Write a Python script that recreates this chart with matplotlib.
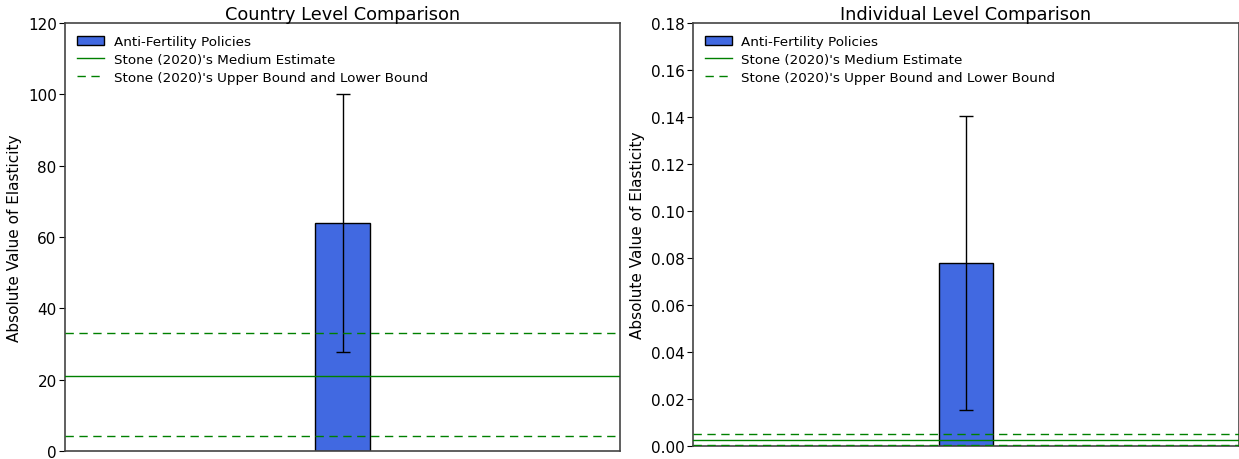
import matplotlib
matplotlib.use("Agg")
import matplotlib.pyplot as plt

# Country level (elasticity, absolute value)
country_est = 63.8
country_err_lo = 27.7
country_err_hi = 100.0
country_stone = [4.2, 21.0, 33.2]  # lower, medium, upper

# Individual level
indiv_est = 0.078
indiv_err_lo = 0.0153
indiv_err_hi = 0.1404
indiv_stone = [0.0004, 0.0027, 0.0050]

bar_label = "Anti-Fertility Policies"
med_label = "Stone (2020)'s Medium Estimate"
bnd_label = "Stone (2020)'s Upper Bound and Lower Bound"

fig = plt.figure(figsize=(12.39, 4.6), dpi=100)
ax1 = fig.add_axes([0.0525, 0.0174, 0.448, 0.9304])
ax2 = fig.add_axes([0.5593, 0.0283, 0.4407, 0.9195])


def panel(ax, est, lo, hi, stone, ymax, step, title, fmt):
    b = ax.bar([0.5], [est], width=0.1, color="royalblue", edgecolor="black",
               linewidth=1, label=bar_label, zorder=2)
    ax.errorbar([0.5], [est], yerr=[[est - lo], [hi - est]], fmt="none",
                ecolor="black", elinewidth=1, capsize=5, capthick=1, zorder=3)
    m, = ax.plot([0, 1], [stone[1]] * 2, color="green", lw=1, label=med_label, zorder=4)
    u, = ax.plot([0, 1], [stone[2]] * 2, color="green", lw=1, ls=(0, (6, 4)),
                 label=bnd_label, zorder=4)
    ax.plot([0, 1], [stone[0]] * 2, color="green", lw=1, ls=(0, (6, 4)), zorder=4)
    ax.set_xlim(0, 1)
    ax.set_ylim(0, ymax)
    ax.set_xticks([])
    ticks = [i * step for i in range(int(round(ymax / step)) + 1)]
    ax.set_yticks(ticks)
    ax.set_yticklabels([fmt.format(t) for t in ticks], fontsize=11)
    ax.tick_params(axis="y", direction="out", length=4, pad=2, right=False)
    for s in ax.spines.values():
        s.set_color("#444444")
        s.set_linewidth(1.2)
    ax.set_ylabel("Absolute Value of Elasticity", fontsize=11, labelpad=4)
    ax.set_title(title, fontsize=12.8, pad=3)
    ax.legend(handles=[b, m, u], loc="upper left", frameon=False, fontsize=9.7,
              handlelength=2.0, handletextpad=0.7, borderaxespad=0.5,
              labelspacing=0.35)


panel(ax1, country_est, country_err_lo, country_err_hi, country_stone,
      120, 20, "Country Level Comparison", "{:.0f}")
panel(ax2, indiv_est, indiv_err_lo, indiv_err_hi, indiv_stone,
      0.18, 0.02, "Individual Level Comparison", "{:.2f}")

fig.savefig("out.png", dpi=100)
